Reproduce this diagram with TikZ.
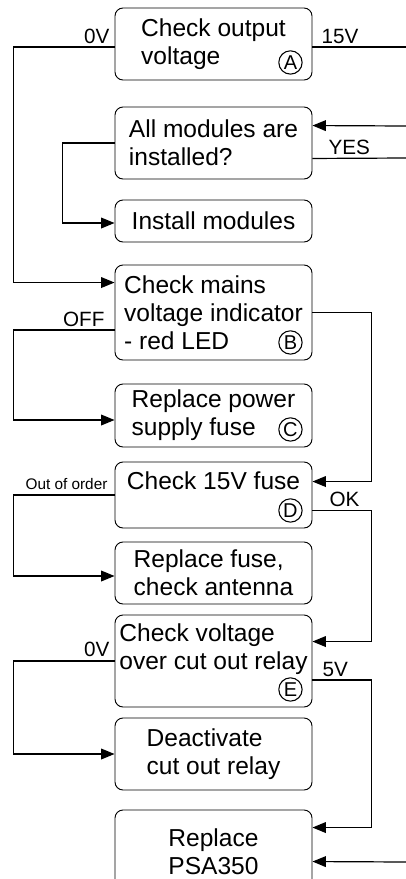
\documentclass[tikz,border=0pt]{standalone}
\usepackage{fontspec}
\setmainfont{Liberation Sans}
\usetikzlibrary{calc,arrows.meta}

\begin{document}
\begin{tikzpicture}[x=0.75pt,y=-0.75pt,
  box/.style={draw,line width=.7pt,rounded corners=6pt,minimum width=147.75pt,inner sep=2pt,align=left,font=\fontsize{18.4}{21}\selectfont},
  tag/.style={draw,circle,line width=.8pt,inner sep=0pt,minimum size=17.5pt,font=\fontsize{15}{15}\selectfont},
  lab/.style={inner sep=1pt,font=\fontsize{15.5}{15.5}\selectfont},
  wire/.style={line width=.9pt},
  arr/.style={wire,-{Triangle[length=10pt,width=8pt]}}]
\useasboundingbox (0,0) rectangle (406,879);
\clip (0,0) rectangle (406,879);
% boxes
\node[box,minimum height=54pt] (A) at (213.5,44) {Check output\\voltage};
\node[box,minimum height=54pt] (M) at (213.5,143) {All modules are\\installed?};
\node[box,minimum height=31.5pt] (I) at (213.5,221) {Install modules};
\node[box,minimum height=71.25pt] (B) at (213.5,312.5) {Check mains\\voltage indicator\\- red LED};
\node[box,minimum height=47.25pt] (C) at (213.5,415.5) {Replace power\\supply fuse};
\node[box,minimum height=49.5pt] (D) at (213.5,495) {Check 15V fuse\\~};
\node[box,minimum height=46.5pt] (F) at (213.5,573) {Replace fuse,\\check antenna};
\node[box,minimum height=69pt] (E) at (213.5,661) {Check voltage\\over cut out relay\\~};
\node[box,minimum height=54pt] (R) at (213.5,754) {Deactivate\\cut out relay};
\node[box,minimum height=63pt,align=center] (P) at (213.5,852) {Replace\\PSA350};
% circled letters
\node[tag] (tA) at ($(A.south east)+(-22,-18)$) {A};
\node[tag] (tB) at ($(B.south east)+(-22,-18)$) {B};
\node[tag] (tC) at ($(C.south east)+(-22,-18)$) {C};
\node[tag] (tD) at ($(D.south east)+(-22,-18)$) {D};
\node[tag] (tE) at ($(E.south east)+(-22,-18)$) {E};
% free ends at the right edge
\coordinate (outA) at (406,47);
\coordinate (inM) at (406,126);
\coordinate (outM) at (406,158);
\coordinate (inP) at (406,862);
% connectors
\draw[arr] ($(A.west)+(0,3)$) -- ++(-101,0) |- ($(B.north west)+(0,18)$);
\draw[wire] ($(A.east)+(0,3)$) -- (outA);
\draw[arr] (inM) -- ($(M.north east)+(0,19)$);
\draw[wire] ($(M.south east)+(0,-21)$) -- (outM);
\draw[arr] (M.west) -- ++(-52,0) |- ($(I.west)+(0,2)$);
\draw[arr] (B.east) -- ++(59,0) |- ($(D.north east)+(0,20)$);
\draw[arr] ($(B.west)+(0,17.5)$) -- ++(-101,0) |- ($(C.west)+(0,4.5)$);
\draw[arr] (D.west) -- ++(-101,0) |- ($(F.west)+(0,3)$);
\draw[arr] ($(D.south east)+(0,-18)$) -- ++(59,0) |- ($(E.north east)+(0,27)$);
\draw[arr] (E.west) -- ++(-101,0) |- (R.west);
\draw[arr] ($(E.east)+(0,19)$) -- ++(59,0) |- ($(P.north east)+(0,18)$);
\draw[arr] (inP) -- ($(P.north east)+(0,52)$);
% labels
\node[lab,anchor=south east] (l0vA) at (111,45) {0V};
\node[lab,anchor=south west] (l15v) at (320,45) {15V};
\node[lab,anchor=south west] (lyes) at (327,156) {YES};
\node[lab,anchor=south east] (loff) at (106,328) {OFF};
\node[lab,anchor=south east,font=\fontsize{11.5}{11.5}\selectfont] (lout) at (109,491) {Out of order};
\node[lab,anchor=south west] (lok) at (328,508) {OK};
\node[lab,anchor=south east] (l0vE) at (111,658) {0V};
\node[lab,anchor=south west] (l5v) at (321,678) {5V};
\end{tikzpicture}
\end{document}
